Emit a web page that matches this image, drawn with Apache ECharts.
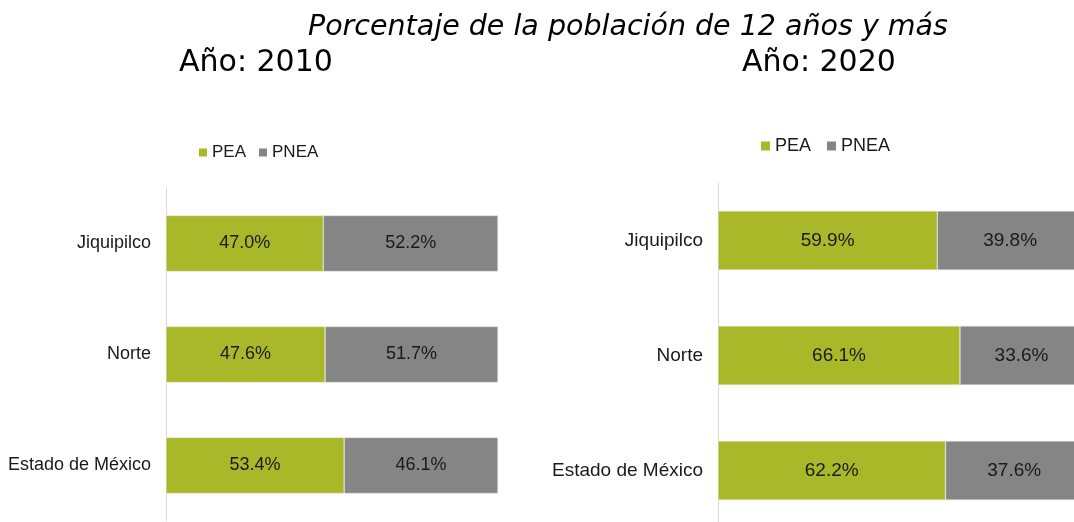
<!DOCTYPE html>
<html>
<head>
<meta charset="utf-8">
<script src="https://cdn.jsdelivr.net/npm/echarts@6/dist/echarts.min.js"></script>
<style>
  html, body { margin: 0; padding: 0; background: #fff; }
  #main { width: 1074px; height: 522px; }
</style>
</head>
<body>
<div id="main"></div>
<script>
  // datos
  var categorias = ['Jiquipilco', 'Norte', 'Estado de México']
  var pea2010 = [47.0, 47.6, 53.4]
  var pnea2010 = [52.2, 51.7, 46.1]
  var pea2020 = [59.9, 66.1, 62.2]
  var pnea2020 = [39.8, 33.6, 37.6]

  var verde = '#A8B829'
  var gris = '#858585'
  var fuente = 'Arial, "Liberation Sans", sans-serif'

  // barras al 100% (como en Excel): se normaliza cada fila
  function norm (a, b) {
    return a.map(function (v, i) { return { value: v / (v + b[i]) * 100, raw: v } })
  }

  function etiqueta (tam) {
    return {
      show: true,
      position: 'inside',
      color: '#1a1a1a',
      fontFamily: fuente,
      fontSize: tam,
      formatter: function (p) { return p.data.raw.toFixed(1) + '%' }
    }
  }

  var myChart = echarts.init(document.getElementById('main'))
  var option = {
    animation: false,
    title: [
      { text: 'Porcentaje de la población de 12 años y más', left: 303, top: 8,
        textStyle: { fontFamily: 'DejaVu Sans', fontStyle: 'italic', fontWeight: 'normal', fontSize: 28.5, color: '#000' } },
      { text: 'Año: 2010', left: 174, top: 43,
        textStyle: { fontFamily: 'DejaVu Sans', fontWeight: 'normal', fontSize: 30, color: '#000' } },
      { text: 'Año: 2020', left: 737, top: 43,
        textStyle: { fontFamily: 'DejaVu Sans', fontWeight: 'normal', fontSize: 30, color: '#000' } }
    ],
    legend: [
      { data: ['PEA', 'PNEA'], left: 194, top: 139, itemWidth: 8, itemHeight: 8, itemGap: 13, icon: 'rect',
        itemStyle: { borderWidth: 0 },
        textStyle: { fontFamily: fuente, fontSize: 17, color: '#1a1a1a' } },
      { data: ['PEA 2020', 'PNEA 2020'], left: 756, top: 132, itemWidth: 9, itemHeight: 9, itemGap: 16, icon: 'rect',
        itemStyle: { borderWidth: 0 },
        formatter: function (n) { return n.replace(' 2020', '') },
        textStyle: { fontFamily: fuente, fontSize: 18, color: '#1a1a1a' } }
    ],
    grid: [
      { left: 166, width: 332, top: 188, height: 333, outerBoundsMode: 'none' },
      { left: 718, width: 365, top: 183, height: 345, outerBoundsMode: 'none' }
    ],
    xAxis: [
      { gridIndex: 0, type: 'value', min: 0, max: 100, show: false },
      { gridIndex: 1, type: 'value', min: 0, max: 100, show: false }
    ],
    yAxis: [0, 1].map(function (g) {
      return {
        gridIndex: g, type: 'category', data: categorias, inverse: true,
        axisLine: { lineStyle: { color: '#D9D9D9', width: 1 } },
        axisTick: { show: false },
        axisLabel: { fontFamily: fuente, fontSize: g === 0 ? 18 : 19, color: '#1a1a1a', margin: 15 }
      }
    }),
    series: [
      { name: 'PEA', type: 'bar', stack: 'a', xAxisIndex: 0, yAxisIndex: 0, barWidth: '50.5%',
        data: norm(pea2010, pnea2010), itemStyle: { color: verde, borderColor: '#e8e8e8', borderWidth: 0.5 }, label: etiqueta(18) },
      { name: 'PNEA', type: 'bar', stack: 'a', xAxisIndex: 0, yAxisIndex: 0, barWidth: '50.5%',
        data: norm(pnea2010, pea2010), itemStyle: { color: gris, borderColor: '#e8e8e8', borderWidth: 0.5 }, label: etiqueta(18) },
      { name: 'PEA 2020', type: 'bar', stack: 'b', xAxisIndex: 1, yAxisIndex: 1, barWidth: '51.5%',
        data: norm(pea2020, pnea2020), itemStyle: { color: verde, borderColor: '#e8e8e8', borderWidth: 0.5 }, label: etiqueta(19) },
      { name: 'PNEA 2020', type: 'bar', stack: 'b', xAxisIndex: 1, yAxisIndex: 1, barWidth: '51.5%',
        data: norm(pnea2020, pea2020), itemStyle: { color: gris, borderColor: '#e8e8e8', borderWidth: 0.5 }, label: etiqueta(19) }
    ]
  }
  myChart.setOption(option)
</script>
</body>
</html>
